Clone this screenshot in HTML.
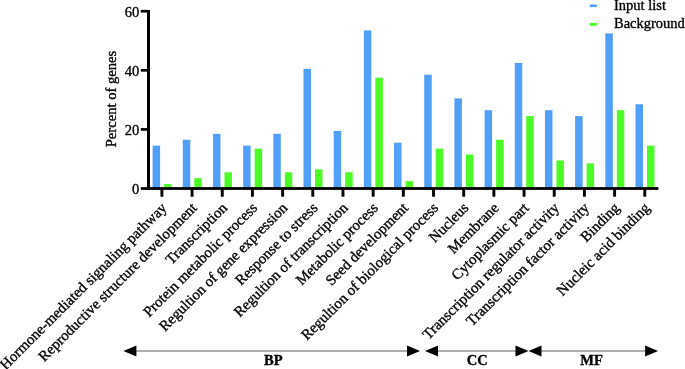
<!DOCTYPE html>
<html><head><meta charset="utf-8"><title>Percent of genes</title>
<style>html,body{margin:0;padding:0;background:#fff}svg{display:block}text{font-family:"Liberation Serif","Times New Roman",serif;font-size:14.5px;fill:#000;stroke:#000;stroke-width:0.35px;stroke-linejoin:round}.b{font-weight:bold}.l{font-size:14.93px}</style></head>
<body>
<svg width="685" height="369" viewBox="0 0 685 369">
<rect width="685" height="369" fill="#fff"/>
<rect x="152.60" y="145.65" width="7.5" height="42.85" fill="#509ff8"/>
<rect x="164.10" y="184.07" width="7.5" height="4.43" fill="#4dfb27"/>
<rect x="182.78" y="139.74" width="7.5" height="48.76" fill="#509ff8"/>
<rect x="194.28" y="178.16" width="7.5" height="10.34" fill="#4dfb27"/>
<rect x="212.96" y="133.83" width="7.5" height="54.67" fill="#509ff8"/>
<rect x="224.46" y="172.25" width="7.5" height="16.25" fill="#4dfb27"/>
<rect x="243.14" y="145.65" width="7.5" height="42.85" fill="#509ff8"/>
<rect x="254.64" y="148.61" width="7.5" height="39.89" fill="#4dfb27"/>
<rect x="273.32" y="133.83" width="7.5" height="54.67" fill="#509ff8"/>
<rect x="284.82" y="172.25" width="7.5" height="16.25" fill="#4dfb27"/>
<rect x="303.50" y="68.82" width="7.5" height="119.68" fill="#509ff8"/>
<rect x="315.00" y="169.29" width="7.5" height="19.21" fill="#4dfb27"/>
<rect x="333.68" y="130.88" width="7.5" height="57.62" fill="#509ff8"/>
<rect x="345.18" y="172.25" width="7.5" height="16.25" fill="#4dfb27"/>
<rect x="363.86" y="30.41" width="7.5" height="158.09" fill="#509ff8"/>
<rect x="375.36" y="77.69" width="7.5" height="110.81" fill="#4dfb27"/>
<rect x="394.04" y="142.70" width="7.5" height="45.80" fill="#509ff8"/>
<rect x="405.54" y="181.11" width="7.5" height="7.39" fill="#4dfb27"/>
<rect x="424.22" y="74.73" width="7.5" height="113.77" fill="#509ff8"/>
<rect x="435.72" y="148.61" width="7.5" height="39.89" fill="#4dfb27"/>
<rect x="454.40" y="98.37" width="7.5" height="90.13" fill="#509ff8"/>
<rect x="465.90" y="154.52" width="7.5" height="33.98" fill="#4dfb27"/>
<rect x="484.58" y="110.19" width="7.5" height="78.31" fill="#509ff8"/>
<rect x="496.08" y="139.74" width="7.5" height="48.76" fill="#4dfb27"/>
<rect x="514.76" y="62.91" width="7.5" height="125.59" fill="#509ff8"/>
<rect x="526.26" y="116.10" width="7.5" height="72.40" fill="#4dfb27"/>
<rect x="544.94" y="110.19" width="7.5" height="78.31" fill="#509ff8"/>
<rect x="556.44" y="160.43" width="7.5" height="28.07" fill="#4dfb27"/>
<rect x="575.12" y="116.10" width="7.5" height="72.40" fill="#509ff8"/>
<rect x="586.62" y="163.38" width="7.5" height="25.12" fill="#4dfb27"/>
<rect x="605.30" y="33.36" width="7.5" height="155.14" fill="#509ff8"/>
<rect x="616.80" y="110.19" width="7.5" height="78.31" fill="#4dfb27"/>
<rect x="635.48" y="104.28" width="7.5" height="84.22" fill="#509ff8"/>
<rect x="646.98" y="145.65" width="7.5" height="42.85" fill="#4dfb27"/>
<rect x="147" y="10" width="3" height="180" fill="#000"/>
<rect x="147" y="187.1" width="511.4" height="2.8" fill="#000"/>
<rect x="140.8" y="187.15" width="7" height="2.7" fill="#000"/>
<text x="139.3" y="193.80" text-anchor="end">0</text>
<rect x="140.8" y="128.05" width="7" height="2.7" fill="#000"/>
<text x="139.3" y="134.70" text-anchor="end">20</text>
<rect x="140.8" y="68.95" width="7" height="2.7" fill="#000"/>
<text x="139.3" y="75.60" text-anchor="end">40</text>
<rect x="140.8" y="9.85" width="7" height="2.7" fill="#000"/>
<text x="139.3" y="16.50" text-anchor="end">60</text>
<rect x="160.45" y="189" width="2.9" height="7.7" fill="#000"/>
<text class="l" text-anchor="end" transform="translate(167.60,208.7) rotate(-45)">Hormone-mediated signaling pathway</text>
<rect x="190.63" y="189" width="2.9" height="7.7" fill="#000"/>
<text class="l" text-anchor="end" transform="translate(197.78,208.7) rotate(-45)">Reproductive structure development</text>
<rect x="220.81" y="189" width="2.9" height="7.7" fill="#000"/>
<text class="l" text-anchor="end" transform="translate(227.96,208.7) rotate(-45)">Transcription</text>
<rect x="250.99" y="189" width="2.9" height="7.7" fill="#000"/>
<text class="l" text-anchor="end" transform="translate(258.14,208.7) rotate(-45)">Protein metabolic process</text>
<rect x="281.17" y="189" width="2.9" height="7.7" fill="#000"/>
<text class="l" text-anchor="end" transform="translate(288.32,208.7) rotate(-45)">Regultion of gene expression</text>
<rect x="311.35" y="189" width="2.9" height="7.7" fill="#000"/>
<text class="l" text-anchor="end" transform="translate(318.50,208.7) rotate(-45)">Response to stress</text>
<rect x="341.53" y="189" width="2.9" height="7.7" fill="#000"/>
<text class="l" text-anchor="end" transform="translate(348.68,208.7) rotate(-45)">Regultion of transcription</text>
<rect x="371.71" y="189" width="2.9" height="7.7" fill="#000"/>
<text class="l" text-anchor="end" transform="translate(378.86,208.7) rotate(-45)">Metabolic process</text>
<rect x="401.89" y="189" width="2.9" height="7.7" fill="#000"/>
<text class="l" text-anchor="end" transform="translate(409.04,208.7) rotate(-45)">Seed development</text>
<rect x="432.07" y="189" width="2.9" height="7.7" fill="#000"/>
<text class="l" text-anchor="end" transform="translate(439.22,208.7) rotate(-45)">Regultion of biological process</text>
<rect x="462.25" y="189" width="2.9" height="7.7" fill="#000"/>
<text class="l" text-anchor="end" transform="translate(469.40,208.7) rotate(-45)">Nucleus</text>
<rect x="492.43" y="189" width="2.9" height="7.7" fill="#000"/>
<text class="l" text-anchor="end" transform="translate(499.58,208.7) rotate(-45)">Membrane</text>
<rect x="522.61" y="189" width="2.9" height="7.7" fill="#000"/>
<text class="l" text-anchor="end" transform="translate(529.76,208.7) rotate(-45)">Cytoplasmic part</text>
<rect x="552.79" y="189" width="2.9" height="7.7" fill="#000"/>
<text class="l" text-anchor="end" transform="translate(559.94,208.7) rotate(-45)">Transcription regulator activity</text>
<rect x="582.97" y="189" width="2.9" height="7.7" fill="#000"/>
<text class="l" text-anchor="end" transform="translate(590.12,208.7) rotate(-45)">Transcription factor activity</text>
<rect x="613.15" y="189" width="2.9" height="7.7" fill="#000"/>
<text class="l" text-anchor="end" transform="translate(620.30,208.7) rotate(-45)">Binding</text>
<rect x="643.33" y="189" width="2.9" height="7.7" fill="#000"/>
<text class="l" text-anchor="end" transform="translate(650.48,208.7) rotate(-45)">Nucleic acid binding</text>
<text style="font-size:14.62px" text-anchor="middle" transform="translate(115.8,99) rotate(-90)">Percent of genes</text>
<rect x="589.8" y="4.5" width="7.1" height="2.6" fill="#509ff8"/>
<rect x="589.8" y="22.9" width="7.1" height="2.9" fill="#4dfb27"/>
<text x="614" y="9.7">Input list</text>
<text x="614" y="28.2">Background</text>
<rect x="133.4" y="350.3" width="276.6" height="1.4" fill="#8c8c8c"/>
<polygon points="123.4,351 136.4,345.4 136.4,356.4" fill="#000"/>
<polygon points="420.0,351 407.0,345.4 407.0,356.4" fill="#000"/>
<text class="b" x="273.3" y="365" text-anchor="middle">BP</text>
<rect x="435.0" y="350.3" width="83.5" height="1.4" fill="#8c8c8c"/>
<polygon points="425.0,351 438.0,345.4 438.0,356.4" fill="#000"/>
<polygon points="528.5,351 515.5,345.4 515.5,356.4" fill="#000"/>
<text class="b" x="477.3" y="365" text-anchor="middle">CC</text>
<rect x="538.5" y="350.3" width="109.6" height="1.4" fill="#8c8c8c"/>
<polygon points="528.5,351 541.5,345.4 541.5,356.4" fill="#000"/>
<polygon points="658.1,351 645.1,345.4 645.1,356.4" fill="#000"/>
<text class="b" x="591.6" y="365" text-anchor="middle">MF</text>
</svg>
</body></html>
